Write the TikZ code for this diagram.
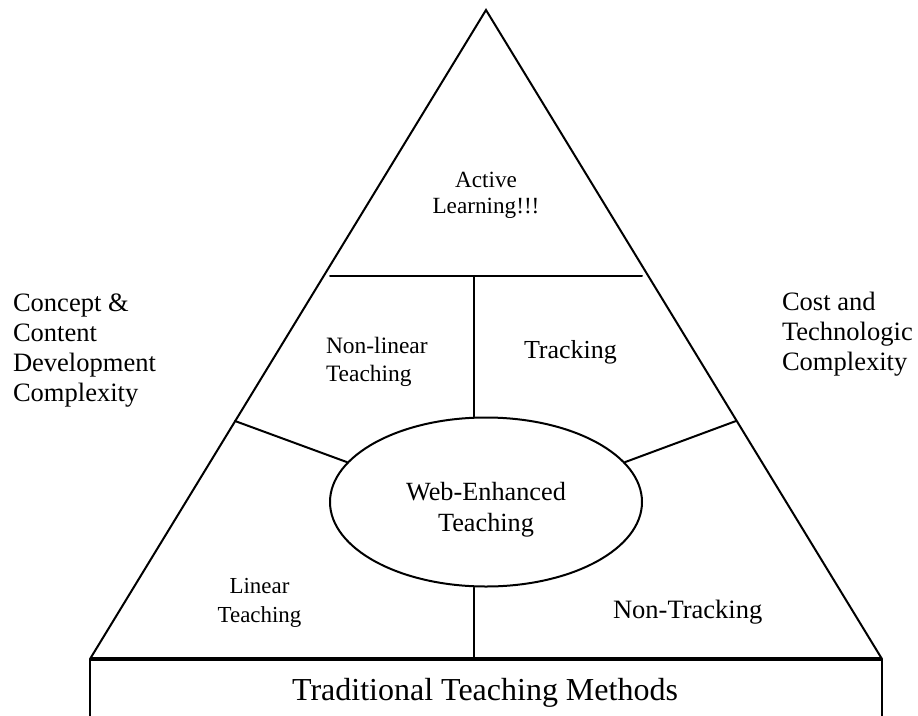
\documentclass[tikz,border=0pt]{standalone}
\usepackage{fontspec}
\setmainfont{Liberation Serif}
\usetikzlibrary{shapes.geometric}
\begin{document}
\begin{tikzpicture}[x=0.75pt,y=-0.75pt,
  edge/.style={line width=1.5pt, line cap=round, line join=miter},
  lbl/.style={inner sep=0pt, outer sep=0pt},
  fbig/.style={font=\fontsize{19.9}{22.5}\selectfont},
  fmid/.style={font=\fontsize{17.4}{19.5}\selectfont},
  webnode/.style={ellipse, draw, line width=1.5pt, minimum width=234pt, minimum height=126.75pt, inner sep=0pt}
]
\useasboundingbox (0,0) rectangle (918,715);
% key points
\coordinate (apex) at (486,10);
\coordinate (bl) at (90,659);
\coordinate (br) at (882,659);
\coordinate (bl2) at (90,716);
\coordinate (br2) at (882,716);
\coordinate (hl) at (330,276);
\coordinate (hr) at (642,276);
\coordinate (hm) at (474,276);
\coordinate (sl) at (235,421);
\coordinate (sr) at (736,421);
\coordinate (bm) at (474,659);
% triangle and box
\draw[edge] (bl) -- (apex) -- (br);
\draw[line width=1.5pt] (bl2) -- (bl);
\draw[line width=1.5pt] (br2) -- (br);
\draw[line width=2.3pt] (bl) -- (br);
% central ellipse
\node[webnode] (web) at (486,502) {};
% dividers
\draw[edge] (hl) -- (hr);
\draw[edge] (hm) -- (hm |- web.north);
\draw[edge] (sl) -- (web.164);
\draw[edge] (sr) -- (web.16);
\draw[edge] (bm |- web.south) -- (bm);
% texts (anchor base = baseline of last line)
\node[lbl, fmid, align=center, anchor=base] (active) at (486,213) {Active\\Learning!!!};
\node[lbl, font=\fontsize{17.6}{21}\selectfont, align=left, anchor=base west] (nonlin) at (326,381) {Non-linear\\Teaching};
\node[lbl, font=\fontsize{19.5}{22}\selectfont, anchor=base west] (track) at (524,358) {Tracking};
\node[lbl, fbig, align=left, anchor=base west] (concept) at (13,401) {Concept \&\\Content\\Development\\Complexity};
\node[lbl, fbig, align=left, anchor=base west] (cost) at (782,370) {Cost and\\Technologic\\Complexity};
\node[lbl, font=\fontsize{19.7}{23.2}\selectfont, align=center, anchor=base] (webtxt) at (486,531) {Web-Enhanced\\Teaching};
\node[lbl, font=\fontsize{17.2}{21.75}\selectfont, align=center, anchor=base] (linear) at (259.5,622) {Linear\\Teaching};
\node[lbl, fbig, anchor=base west] (nontrack) at (613,618) {Non-Tracking};
\node[lbl, font=\fontsize{24}{28}\selectfont, anchor=base] (trad) at (485,700) {Traditional Teaching Methods};
\end{tikzpicture}
\end{document}
